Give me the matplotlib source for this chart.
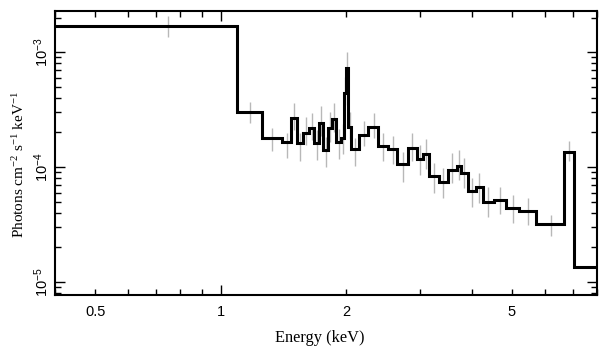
import numpy as np
import matplotlib
matplotlib.use("Agg")
import matplotlib.pyplot as plt
from matplotlib.ticker import LogLocator, FuncFormatter, NullFormatter

# ---- data ----
edges_keV = [0.40, 1.093, 1.255, 1.403, 1.475, 1.525, 1.576, 1.630, 1.675, 1.722,
             1.761, 1.811, 1.851, 1.893, 1.946, 1.979, 2.001, 2.023, 2.057, 2.150,
             2.262, 2.390, 2.526, 2.655, 2.807, 2.951, 3.050, 3.154, 3.333, 3.504,
             3.685, 3.767, 3.915, 4.093, 4.256, 4.523, 4.834, 5.196, 5.710, 6.671,
             7.051, 8.0]
model_flux = [1.68e-3, 2.99e-4, 1.78e-4, 1.66e-4, 2.65e-4, 1.63e-4, 1.99e-4, 2.20e-4,
              1.63e-4, 2.40e-4, 1.41e-4, 2.17e-4, 2.60e-4, 1.66e-4, 1.78e-4, 4.38e-4,
              7.21e-4, 2.24e-4, 1.43e-4, 1.90e-4, 2.21e-4, 1.53e-4, 1.44e-4, 1.06e-4,
              1.46e-4, 1.17e-4, 1.29e-4, 8.36e-5, 7.36e-5, 9.42e-5, 1.02e-4, 8.91e-5,
              6.22e-5, 6.66e-5, 4.99e-5, 5.16e-5, 4.37e-5, 4.14e-5, 3.18e-5, 1.34e-4,
              1.36e-5]
# data points (grey error bars): centre value and half-width in dex
data_flux = [1.68e-3, 2.99e-4, 1.72e-4, 1.55e-4, 2.75e-4, 1.50e-4, 2.05e-4, 2.25e-4,
             1.55e-4, 2.50e-4, 1.35e-4, 2.25e-4, 2.70e-4, 1.60e-4, 1.75e-4, 4.60e-4,
             8.00e-4, 2.30e-4, 1.35e-4, 1.95e-4, 2.30e-4, 1.50e-4, 1.40e-4, 1.00e-4,
             1.50e-4, 1.15e-4, 1.30e-4, 8.00e-5, 7.20e-5, 9.80e-5, 1.05e-4, 8.80e-5,
             6.00e-5, 6.60e-5, 5.00e-5, 5.10e-5, 4.30e-5, 4.10e-5, 3.10e-5, 1.38e-4,
             np.nan]
data_err_dex = [0.09, 0.09, 0.10, 0.11, 0.12, 0.12, 0.12, 0.12, 0.13, 0.13,
                0.13, 0.13, 0.13, 0.13, 0.13, 0.12, 0.10, 0.12, 0.12, 0.11,
                0.11, 0.12, 0.12, 0.13, 0.12, 0.13, 0.13, 0.13, 0.13, 0.13,
                0.13, 0.13, 0.13, 0.13, 0.13, 0.12, 0.12, 0.12, 0.09, 0.09,
                0.0]

x_major_labels = {0.5: "0.5", 1: "1", 2: "2", 5: "5"}

# ---- figure ----
plt.rcParams['mathtext.default'] = 'regular'
fig = plt.figure(figsize=(6.09, 3.57), dpi=100)
ax = fig.add_axes([55/609, 1-295/357, (597-55)/609, (295-11)/357])

edges = np.array(edges_keV)
mf = np.array(model_flux)
df = np.array(data_flux)
de = np.array(data_err_dex)
centres = 0.5*(edges[:-1] + edges[1:])
lo = df - df*10**(-de)
hi = df*10**(de) - df
ax.errorbar(centres, df, yerr=[lo, hi], fmt='none', ecolor='#b8b8b8',
            elinewidth=1.0, capsize=0, zorder=1)
ax.stairs(mf, edges, baseline=None, color='black', linewidth=2.2, zorder=2)

ax.set_xscale('log')
ax.set_yscale('log')
ax.set_xlim(0.4, 8.0)
ax.set_ylim(7.7e-6, 2.28e-3)

ax.xaxis.set_major_locator(LogLocator(base=10, numticks=10))
ax.xaxis.set_minor_locator(LogLocator(base=10, subs=np.arange(2, 10), numticks=20))
def xfmt(v, pos=None):
    for k, s in x_major_labels.items():
        if abs(v - k) < 1e-6:
            return s
    return ""
ax.xaxis.set_major_formatter(FuncFormatter(xfmt))
ax.xaxis.set_minor_formatter(FuncFormatter(xfmt))

ax.yaxis.set_major_locator(LogLocator(base=10, numticks=10))
ax.yaxis.set_minor_locator(LogLocator(base=10, subs=np.arange(2, 10), numticks=20))
ax.yaxis.set_minor_formatter(NullFormatter())
ax.yaxis.set_major_formatter(FuncFormatter(
    lambda v, pos: r'$10^{%d}$' % int(round(np.log10(v)))))

for a in ('x', 'y'):
    ax.tick_params(axis=a, which='major', direction='in', length=7, width=1.0,
                   top=True, right=True, labelsize=10.5)
    ax.tick_params(axis=a, which='minor', direction='in', length=4, width=1.0,
                   top=True, right=True, labelsize=10.5)
ax.tick_params(axis='y', which='major', labelrotation=90, pad=3)
for lab in ax.get_yticklabels():
    lab.set_va('center')
    lab.set_family('Liberation Sans')
for lab in ax.get_xticklabels(which='both'):
    lab.set_family('Liberation Sans')
ax.tick_params(axis='x', which='both', pad=7)

for sp in ax.spines.values():
    sp.set_linewidth(1.5)

ax.set_xlabel('Energy (keV)', family='Liberation Serif', fontsize=11.8)
ax.xaxis.set_label_coords(0.489, -0.123)
ax.set_ylabel(r'Photons cm$^{-2}$ s$^{-1}$ keV$^{-1}$', family='Liberation Serif',
              fontsize=11)
ax.yaxis.set_label_coords(-0.052, 0.458)

fig.savefig('out.png', dpi=100)
